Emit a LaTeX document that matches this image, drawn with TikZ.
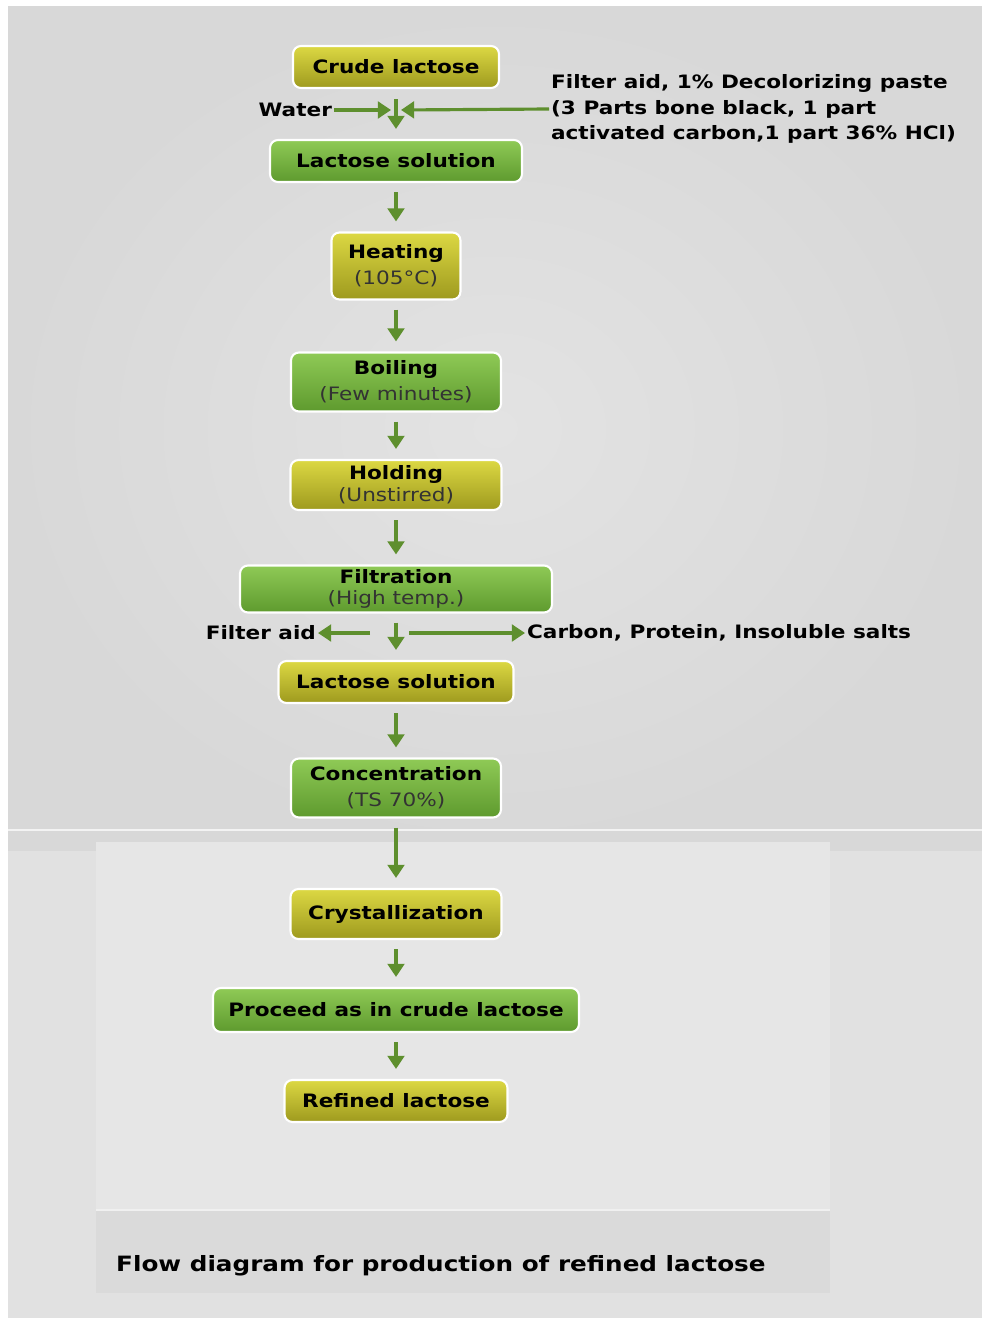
\documentclass[tikz,border=0pt]{standalone}
\usepackage{fontspec}
\setmainfont{DejaVu Sans}[FakeStretch=1.17]
\usepackage{tikz}
\usetikzlibrary{arrows.meta,positioning}
\usepackage{xcolor}
\definecolor{ytop}{HTML}{DCD843}
\definecolor{ybot}{HTML}{9E9A1E}
\definecolor{gtop}{HTML}{8FCA56}
\definecolor{gbot}{HTML}{5E9A2E}
\definecolor{flowgreen}{HTML}{5E8F2E}
\definecolor{bgupper}{HTML}{D8D8D8}
\definecolor{bgcentre}{HTML}{E3E3E3}
\definecolor{bglower}{HTML}{E1E1E1}
\definecolor{bgpanel}{HTML}{E6E6E6}
\definecolor{bgband}{HTML}{DADADA}
\tikzset{
  stagebox/.style = {draw=white, line width=1.2pt, rounded corners=4.5pt,
                     align=center, inner sep=1pt,
                     font=\fontsize{10.5}{12.5}\selectfont\bfseries},
  ybox/.style     = {stagebox, top color=ytop, bottom color=ybot},
  gbox/.style     = {stagebox, top color=gtop, bottom color=gbot},
  flow/.style     = {draw=flowgreen, line width=1.8pt,
                     -{Triangle[width=9.5pt,length=7.5pt]}},
  sidetext/.style = {font=\fontsize{10.5}{14.5}\selectfont\bfseries, inner sep=1pt},
}
\newcommand{\sub}[1]{{\mdseries\color{black!80}#1}}

\begin{document}
\begin{tikzpicture}[x=0.02cm,y=-0.02cm]
\useasboundingbox (0,0) rectangle (982,1318);
% background panels
\fill[white] (0,0) rectangle (982,1318);
\fill[bglower] (8,7) rectangle (982,1318);
\shade[inner color=bgcentre, outer color=bgupper] (8,7) rectangle (982,850);
\draw[white!70!bgupper, line width=1pt] (8,830) -- (982,830);
\fill[bgpanel] (96,842) rectangle (830,1210);
\fill[bgband] (96,1210) rectangle (830,1293);
\draw[white!60!bgband, line width=1pt] (96,1210) -- (830,1210);

% stages
\node[ybox, minimum width=4.12cm, minimum height=0.84cm] (crude) at (396,67) {Crude lactose};
\node[gbox, minimum width=5.04cm, minimum height=0.84cm] (sol1) at (396,161) {Lactose solution};
\node[ybox, minimum width=2.58cm, minimum height=1.34cm] (heat) at (396,266) {Heating\\[2.5pt] \sub{(105°C)}};
\node[gbox, minimum width=4.2cm, minimum height=1.18cm] (boil) at (396,382) {Boiling\\[2.5pt] \sub{(Few minutes)}};
\node[ybox, minimum width=4.22cm, minimum height=1.0cm] (hold) at (396,485) {Holding\\ \sub{(Unstirred)}};
\node[gbox, minimum width=6.24cm, minimum height=0.94cm] (filt) at (396,589) {Filtration\\[-1pt] \sub{(High temp.)}};
\node[ybox, minimum width=4.7cm, minimum height=0.84cm] (sol2) at (396,682) {Lactose solution};
\node[gbox, minimum width=4.2cm, minimum height=1.18cm] (conc) at (396,788) {Concentration\\[2.5pt] \sub{(TS 70\%)}};
\node[ybox, minimum width=4.22cm, minimum height=1.0cm] (cryst) at (396,914) {Crystallization};
\node[gbox, minimum width=7.32cm, minimum height=0.88cm] (proc) at (396,1010) {Proceed as in crude lactose};
\node[ybox, minimum width=4.46cm, minimum height=0.84cm] (refined) at (396,1101) {Refined lactose};

% inputs at the dissolving step
\node[sidetext, anchor=east] (water) at (334,110) {Water};
\node[sidetext, anchor=west, align=left] (paste) at (549,109)
  {Filter aid, 1\% Decolorizing paste\\(3 Parts bone black, 1 part\\activated carbon,1 part 36\% HCl)};
\coordinate (wl) at (391,110);
\coordinate (wr) at (401,110);
\draw[flow] (water.east) -- (wl);
\draw[flow] (paste.west) -- (wr);

% outputs of filtration
\node[sidetext, anchor=east] (faid) at (318,633) {Filter aid};
\node[sidetext, anchor=west] (waste) at (525,633) {Carbon, Protein, Insoluble salts};
\coordinate (fl) at (370,633);
\coordinate (fr) at (409,633);
\draw[flow] (fl) -- (faid.east);
\draw[flow] (fr) -- (waste.west);

% main line
\draw[flow, shorten <=0.2cm, shorten >=0.2cm] (crude) -- (sol1);
\foreach \a/\b in {sol1/heat, heat/boil, boil/hold, hold/filt, filt/sol2,
                   sol2/conc, conc/cryst, cryst/proc, proc/refined}
  \draw[flow, shorten <=0.18cm, shorten >=0.2cm] (\a) -- (\b);

\node[anchor=west, font=\fontsize{12}{14}\selectfont\bfseries] (caption) at (110,1266)
  {Flow diagram for production of refined lactose};
\end{tikzpicture}
\end{document}
